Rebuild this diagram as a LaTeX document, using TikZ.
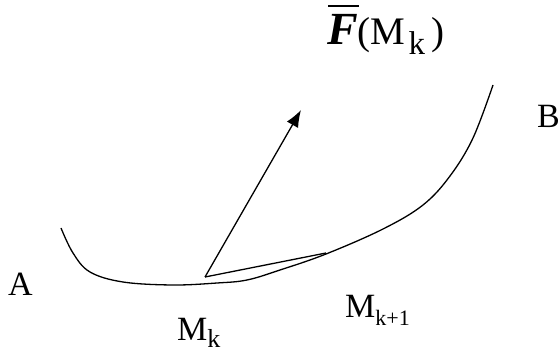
\documentclass[tikz,border=0pt]{standalone}
\usepackage{fontspec}
\setmainfont{Liberation Serif}
\usetikzlibrary{arrows.meta}
\newcommand{\subk}[3]{\raisebox{-#2}{\fontsize{#1}{#1}\selectfont #3}}
\newcommand{\barF}{\setbox0\hbox{\fontsize{46}{46}\selectfont\bfseries\itshape F}\rlap{\hspace{1pt}\raisebox{38pt}{\rule{31pt}{1.8pt}}}\box0}
\begin{document}
\begin{tikzpicture}[x=1pt,y=-1pt,
  curveline/.style={line width=1.3pt,line join=round},
  lbl/.style={inner sep=0pt,anchor=base west,font=\fontsize{34}{38}\selectfont}]
\useasboundingbox (0,0) rectangle (559,352);
\coordinate (Mk) at (205,277);
\coordinate (Mk1) at (326,253);
\coordinate (Ftip) at (301,110);
\draw[curveline] plot[smooth,tension=0.6] coordinates {(61,228) (73,253) (90,272) (123,282) (173,285) (217,283) (247,280) (280,270) (326,254) (383,229) (423,205) (450,176) (473,138) (493,85)};
\draw[curveline] (Mk) -- (Mk1);
\draw[curveline,-{Latex[length=17pt,width=13pt]}] (Mk) -- (Ftip);
\node[lbl] (A) at (8,296) {A};
\node[lbl] (B) at (537,128) {B};
\node[lbl] (mk) at (177,341) {M\subk{26}{6pt}{k}};
\node[lbl] (mk1) at (345,317) {M\subk{22}{8pt}{k+1}};
\node[lbl,font=\fontsize{39}{42}\selectfont] (F) at (327,45) {\barF(M\hspace{3pt}\subk{33}{10pt}{k}\hspace{6pt})};
\end{tikzpicture}
\end{document}
